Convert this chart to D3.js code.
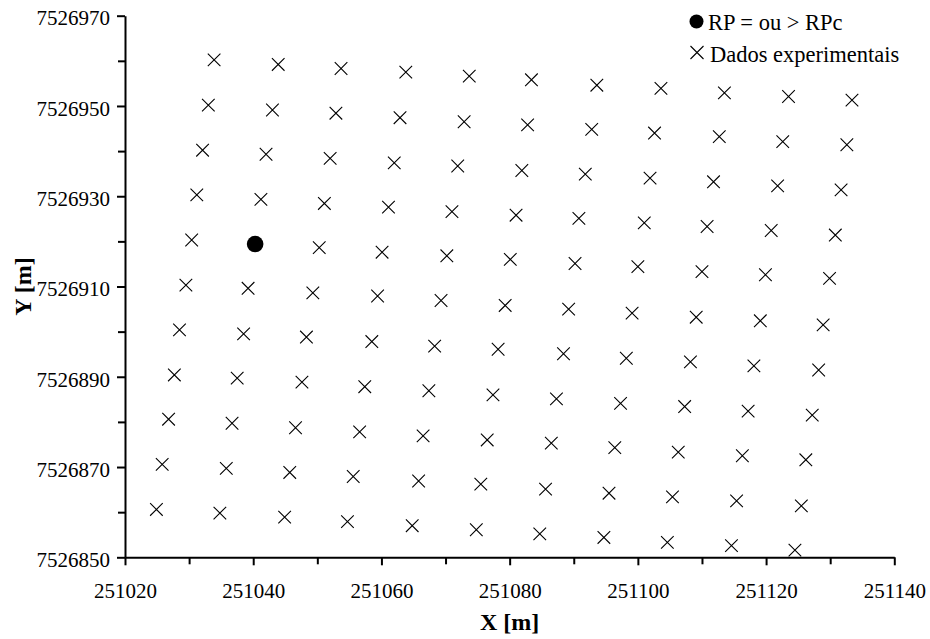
<!DOCTYPE html>
<html>
<head>
<meta charset="utf-8">
<script src="https://cdn.jsdelivr.net/npm/d3@7"></script>
<style>
  html, body { margin: 0; padding: 0; background: #fff; }
  svg { display: block; font-family: "Liberation Serif", "Times New Roman", serif; }
</style>
</head>
<body>
<svg id="chart" width="930" height="639"></svg>
<script>
// ---- data ----
const xTicks = [251020, 251040, 251060, 251080, 251100, 251120, 251140];
const xMinorTicks = [251030, 251050, 251070, 251090, 251110, 251130];
const yTicks = [7526850, 7526870, 7526890, 7526910, 7526930, 7526950, 7526970];
const yMinorTicks = [7526860, 7526880, 7526900, 7526920, 7526940, 7526960];

const legendLabels = ["RP = ou > RPc", "Dados experimentais"];
const xTitle = "X [m]";
const yTitle = "Y [m]";

// RP = ou > RPc
const rpX = [251040.3];
const rpY = [7526919.4];

// Dados experimentais
const dadosX = [
  251033.9, 251043.9, 251053.7, 251063.8, 251073.7, 251083.4, 251093.6, 251103.6, 251113.5, 251123.5, 251133.4,
  251033.0, 251043.0, 251052.9, 251062.9, 251072.9, 251082.8, 251092.8, 251102.6, 251112.7, 251122.6, 251132.6,
  251032.1, 251042.0, 251052.0, 251062.0, 251071.9, 251081.9, 251091.8, 251101.9, 251111.8, 251121.8, 251131.7,
  251031.2, 251041.2, 251051.1, 251061.1, 251071.0, 251081.0, 251090.8, 251101.0, 251110.8, 251120.8, 251130.8,
  251030.4,           251050.3, 251060.1, 251070.2, 251080.1, 251090.2, 251100.0, 251110.0, 251119.9, 251129.9,
  251029.5, 251039.2, 251049.3, 251059.4, 251069.3, 251079.3, 251089.2, 251099.1, 251109.1, 251119.1, 251128.9,
  251028.5, 251038.5, 251048.3, 251058.5, 251068.3, 251078.2, 251088.4, 251098.2, 251108.2, 251118.1, 251128.2,
  251027.7, 251037.5, 251047.6, 251057.4, 251067.4, 251077.4, 251087.3, 251097.3, 251107.3, 251117.2, 251127.2,
  251026.8, 251036.7, 251046.6, 251056.6, 251066.5, 251076.5, 251086.5, 251096.4, 251106.3, 251116.3, 251126.2,
  251025.8, 251035.8, 251045.7, 251055.6, 251065.8, 251075.5, 251085.6, 251095.5, 251105.4, 251115.4, 251125.5,
  251024.9, 251034.8, 251044.9, 251054.7, 251064.8, 251074.8, 251084.7, 251094.7, 251104.6, 251114.6, 251124.5
];
const dadosY = [
  7526960.2, 7526959.2, 7526958.3, 7526957.5, 7526956.6, 7526955.8, 7526954.6, 7526953.9, 7526952.9, 7526952.1, 7526951.3,
  7526950.2, 7526949.1, 7526948.4, 7526947.4, 7526946.5, 7526945.8, 7526944.8, 7526944.0, 7526943.2, 7526942.1, 7526941.4,
  7526940.2, 7526939.3, 7526938.4, 7526937.4, 7526936.7, 7526935.7, 7526934.9, 7526934.0, 7526933.2, 7526932.3, 7526931.4,
  7526930.3, 7526929.3, 7526928.4, 7526927.6, 7526926.6, 7526925.8, 7526925.1, 7526924.1, 7526923.3, 7526922.4, 7526921.4,
  7526920.3,            7526918.6, 7526917.6, 7526916.8, 7526916.0, 7526915.1, 7526914.4, 7526913.3, 7526912.6, 7526911.8,
  7526910.3, 7526909.6, 7526908.6, 7526907.9, 7526906.9, 7526905.8, 7526905.0, 7526904.1, 7526903.2, 7526902.4, 7526901.5,
  7526900.4, 7526899.5, 7526898.8, 7526897.8, 7526896.8, 7526896.1, 7526895.1, 7526894.1, 7526893.3, 7526892.4, 7526891.5,
  7526890.4, 7526889.7, 7526888.8, 7526887.8, 7526886.9, 7526886.0, 7526885.1, 7526884.1, 7526883.4, 7526882.4, 7526881.5,
  7526880.6, 7526879.7, 7526878.7, 7526877.8, 7526876.9, 7526876.0, 7526875.3, 7526874.3, 7526873.3, 7526872.5, 7526871.6,
  7526870.6, 7526869.7, 7526868.8, 7526867.9, 7526866.9, 7526866.2, 7526865.1, 7526864.2, 7526863.4, 7526862.5, 7526861.4,
  7526860.6, 7526859.8, 7526858.9, 7526857.9, 7526857.0, 7526856.1, 7526855.2, 7526854.4, 7526853.3, 7526852.6, 7526851.6
];

// ---- layout ----
const svg = d3.select("#chart");
const plot = { left: 125, right: 894.3, top: 15.7, bottom: 557.3 };
const serif = '"Liberation Serif", "Times New Roman", serif';

const x = d3.scaleLinear().domain([251020, 251140]).range([plot.left, plot.right]);
const y = d3.scaleLinear().domain([7526850, 7526970]).range([plot.bottom, plot.top]);

const fmt = d3.format("d");

// minor ticks
svg.append("g")
  .attr("transform", `translate(0,${plot.bottom})`)
  .call(d3.axisBottom(x).tickValues(xMinorTicks).tickSize(7).tickSizeOuter(0).tickFormat(""))
  .call(g => g.select(".domain").remove())
  .call(g => g.selectAll("line").attr("stroke", "#000").attr("stroke-width", 2));
svg.append("g")
  .attr("transform", `translate(${plot.left},0)`)
  .call(d3.axisLeft(y).tickValues(yMinorTicks).tickSize(7).tickSizeOuter(0).tickFormat(""))
  .call(g => g.select(".domain").remove())
  .call(g => g.selectAll("line").attr("stroke", "#000").attr("stroke-width", 2));

// major axes
const xAxis = svg.append("g")
  .attr("transform", `translate(0,${plot.bottom})`)
  .call(d3.axisBottom(x).tickValues(xTicks).tickSize(8).tickSizeOuter(0).tickFormat(fmt));
xAxis.select(".domain").attr("stroke", "#000").attr("stroke-width", 2);
xAxis.selectAll("line").attr("stroke", "#000").attr("stroke-width", 2);
xAxis.selectAll("text")
  .attr("y", 41).attr("dy", null)
  .attr("fill", "#000")
  .style("font-family", serif)
  .style("font-size", "21px");

const yAxis = svg.append("g")
  .attr("transform", `translate(${plot.left},0)`)
  .call(d3.axisLeft(y).tickValues(yTicks).tickSize(8).tickSizeOuter(0).tickFormat(fmt));
yAxis.select(".domain").attr("stroke", "#000").attr("stroke-width", 2);
yAxis.selectAll("line").attr("stroke", "#000").attr("stroke-width", 2);
yAxis.selectAll("text")
  .attr("x", -15).attr("dy", "0.44em")
  .attr("fill", "#000")
  .style("font-family", serif)
  .style("font-size", "21px");

// axis titles
svg.append("text")
  .attr("x", (plot.left + plot.right) / 2)
  .attr("y", 630)
  .attr("text-anchor", "middle")
  .style("font-family", serif)
  .style("font-size", "24px")
  .style("font-weight", "bold")
  .text(xTitle);

svg.append("text")
  .attr("transform", `translate(31,${(plot.top + plot.bottom) / 2}) rotate(-90)`)
  .attr("text-anchor", "middle")
  .style("font-family", serif)
  .style("font-size", "24px")
  .style("font-weight", "bold")
  .text(yTitle);

// markers
const crossPath = s => `M${-s},${-s}L${s},${s}M${-s},${s}L${s},${-s}`;

const dados = dadosX.map((v, i) => ({ x: v, y: dadosY[i] }));
svg.append("g").selectAll("path")
  .data(dados)
  .join("path")
  .attr("transform", d => `translate(${x(d.x)},${y(d.y)})`)
  .attr("d", crossPath(6.3))
  .attr("stroke", "#000")
  .attr("stroke-width", 1.1)
  .attr("fill", "none");

const rp = rpX.map((v, i) => ({ x: v, y: rpY[i] }));
svg.append("g").selectAll("circle")
  .data(rp)
  .join("circle")
  .attr("cx", d => x(d.x))
  .attr("cy", d => y(d.y))
  .attr("r", 8.3)
  .attr("fill", "#000");

// legend
const lg = svg.append("g").style("font-family", serif);
lg.append("circle").attr("cx", 696.5).attr("cy", 21.5).attr("r", 7).attr("fill", "#000");
lg.append("text").attr("x", 708).attr("y", 29.5).style("font-size", "22.5px").text(legendLabels[0]);
lg.append("path").attr("transform", "translate(697,52.5)").attr("d", crossPath(6.5))
  .attr("stroke", "#000").attr("stroke-width", 1.1).attr("fill", "none");
lg.append("text").attr("x", 710).attr("y", 61.5).style("font-size", "22.5px").text(legendLabels[1]);
</script>
</body>
</html>
